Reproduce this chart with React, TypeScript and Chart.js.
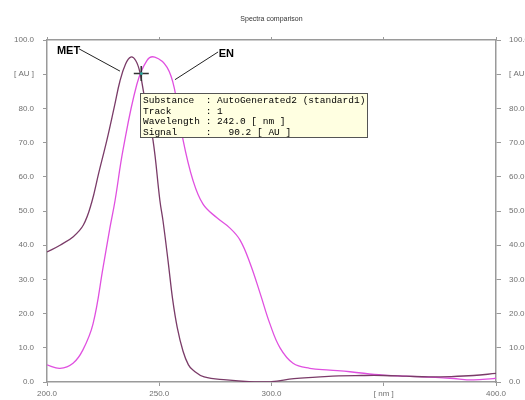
import React, { useEffect, useRef } from "react";
import { Chart, registerables } from "chart.js";

Chart.register(...registerables);

// ---- data ----
const metWavelengths = [200, 205.8, 211.7, 216.2, 219.9, 223, 226.7, 230, 232.5, 235, 237.3, 239.5, 241.4, 244, 247.2, 250.3, 251.7, 254, 256, 258, 260.6, 263, 265, 270, 280, 290, 300, 310, 320, 330, 340, 350, 360, 370, 380, 390, 400];
const metSignal = [38, 40, 42.5, 45.9, 52.5, 61, 70.8, 80.5, 88, 93, 95, 94, 90.5, 81, 70.8, 53, 47, 35, 24, 16, 9, 5, 3.5, 1.5, 0.6, 0.1, 0.1, 1.0, 1.4, 1.8, 1.9, 1.9, 1.7, 1.5, 1.6, 1.9, 2.5];

const enWavelengths = [200, 205.8, 211.6, 216, 220.5, 225, 228, 230.3, 233.9, 240, 244.5, 248, 253.5, 257, 260.6, 265, 269.5, 275.7, 281.5, 286, 290.4, 294.9, 299.3, 303.8, 309.6, 317, 326, 335, 349.7, 364.8, 379.5, 389.8, 398.7, 400];
const enSignal = [5, 4, 5.5, 9.4, 17, 33.6, 45, 53, 68, 87, 94, 95, 92, 85, 70.8, 59, 52, 48, 45, 41.5, 34.8, 26, 17, 10, 5.5, 4, 3.5, 3, 2, 1.6, 1.1, 0.6, 1, 1.1];

const xTicks = [200, 250, 300, 350, 400];
const xTickLabels = ["200.0", "250.0", "300.0", "[ nm ]", "400.0"];
const yTicks = [0, 10, 20, 30, 40, 50, 60, 70, 80, 90, 100];
const yTickLabels = ["0.0", "10.0", "20.0", "30.0", "40.0", "50.0", "60.0", "70.0", "80.0", "[ AU ]", "100.0"];

const cursorPoint = { x: 242.0, y: 90.2 };
const infoLabels = ["Substance", "Track", "Wavelength", "Signal"];
const infoValues = ["AutoGenerated2 (standard1)", "1", "242.0 [ nm ]", "  90.2 [ AU ]"];

const annotationNames = ["MET", "EN"];
const annotationTextAt = [[204.4, 95.9], [276.5, 95.0]];
const annotationLineFrom = [[214.3, 97.4], [276.2, 96.5]];
const annotationLineTo = [[232.5, 90.9], [257.0, 88.4]];

const chartTitle = "Spectra comparison";

const MET_COLOR = "#7a3b68";
const EN_COLOR = "#e050e0";
const AXIS_COLOR = "#9a9a9a";
const TICK_TEXT = "#707070";

function toPoints(xs: number[], ys: number[]) {
  return xs.map((x, i) => ({ x, y: ys[i] }));
}

const overlayPlugin = {
  id: "overlay",
  afterDraw(chart: any) {
    const { ctx, chartArea, scales } = chart;
    const xs = scales.x;
    const ys = scales.y;
    ctx.save();
    // title
    ctx.fillStyle = "#333";
    ctx.font = "7px 'Liberation Sans', Arial, sans-serif";
    ctx.textAlign = "center";
    ctx.textBaseline = "middle";
    ctx.fillText(chartTitle, (chartArea.left + chartArea.right) / 2, 19);

    // annotations
    for (let i = 0; i < annotationNames.length; i++) {
      const fx = xs.getPixelForValue(annotationLineFrom[i][0]);
      const fy = ys.getPixelForValue(annotationLineFrom[i][1]);
      const tx = xs.getPixelForValue(annotationLineTo[i][0]);
      const ty = ys.getPixelForValue(annotationLineTo[i][1]);
      ctx.strokeStyle = "#222";
      ctx.lineWidth = 1;
      ctx.beginPath();
      ctx.moveTo(fx, fy);
      ctx.lineTo(tx, ty);
      ctx.stroke();
      ctx.fillStyle = "#000";
      ctx.font = "bold 11px 'Liberation Sans', Arial, sans-serif";
      ctx.textAlign = "left";
      ctx.textBaseline = "alphabetic";
      ctx.fillText(
        annotationNames[i],
        xs.getPixelForValue(annotationTextAt[i][0]),
        ys.getPixelForValue(annotationTextAt[i][1])
      );
    }

    // info box
    const px = xs.getPixelForValue(cursorPoint.x);
    const py = ys.getPixelForValue(cursorPoint.y);
    const bx = Math.round(px) - 0.5;
    const by = Math.round(py + 19) + 0.5;
    const bw = 227;
    const bh = 44;
    ctx.fillStyle = "#ffffe1";
    ctx.fillRect(bx, by, bw, bh);
    ctx.strokeStyle = "#555";
    ctx.lineWidth = 1;
    ctx.strokeRect(bx, by, bw, bh);
    ctx.fillStyle = "#000";
    ctx.font = "9.5px 'Liberation Mono', 'Courier New', monospace";
    ctx.textAlign = "left";
    ctx.textBaseline = "middle";
    for (let i = 0; i < infoLabels.length; i++) {
      const line = infoLabels[i].padEnd(11, " ") + ": " + infoValues[i];
      ctx.fillText(line, bx + 2.5, by + 7 + i * 10.5);
    }
    ctx.restore();
  },
};

export default function App() {
  const ref = useRef<HTMLCanvasElement>(null);
  useEffect(() => {
    if (!ref.current) return;
    const tickFont = { family: "'Liberation Sans', Arial, sans-serif", size: 8 };
    const chart = new Chart(ref.current, {
      type: "scatter",
      data: {
        datasets: [
          {
            label: "MET",
            data: toPoints(metWavelengths, metSignal),
            showLine: true,
            borderColor: MET_COLOR,
            borderWidth: 1.3,
            pointRadius: 0,
            tension: 0.4,
            xAxisID: "x",
            yAxisID: "y",
            order: 1,
          },
          {
            label: "EN",
            data: toPoints(enWavelengths, enSignal),
            showLine: true,
            borderColor: EN_COLOR,
            borderWidth: 1.3,
            pointRadius: 0,
            tension: 0.4,
            xAxisID: "x",
            yAxisID: "y",
            order: 2,
          },
          {
            label: "cursor",
            data: [cursorPoint],
            showLine: false,
            pointStyle: "cross",
            pointRadius: 7.5,
            borderColor: "#333",
            borderWidth: 1.6,
            xAxisID: "x",
            yAxisID: "y",
            order: 0,
          },
          {
            label: "cursorDot",
            data: [cursorPoint],
            showLine: false,
            pointStyle: "circle",
            pointRadius: 1.5,
            backgroundColor: "#2aa39a",
            borderColor: "#2aa39a",
            borderWidth: 0,
            xAxisID: "x",
            yAxisID: "y",
            order: -1,
          },
        ],
      } as any,
      options: {
        responsive: false,
        animation: false,
        devicePixelRatio: 1,
        layout: { padding: 0 },
        plugins: {
          legend: { display: false },
          tooltip: { enabled: false },
          title: { display: false },
        },
        scales: {
          x: {
            type: "linear",
            position: "bottom",
            min: 200,
            max: 400,
            afterBuildTicks: (s: any) => {
              s.ticks = xTicks.map((v) => ({ value: v }));
            },
            ticks: {
              autoSkip: false,
              maxRotation: 0,
              font: tickFont,
              color: TICK_TEXT,
              padding: 3,
              callback: (v: any) => xTickLabels[xTicks.indexOf(Number(v))] ?? "",
            },
            grid: { drawOnChartArea: false, drawTicks: true, tickLength: 4, color: AXIS_COLOR, lineWidth: 1 },
            border: { display: true, color: AXIS_COLOR, width: 1.5 },
            afterFit: (s: any) => {
              s.height = 18;
            },
          },
          x2: {
            type: "linear",
            position: "top",
            min: 200,
            max: 400,
            afterBuildTicks: (s: any) => {
              s.ticks = xTicks.map((v) => ({ value: v }));
            },
            ticks: { display: false },
            grid: { drawOnChartArea: false, drawTicks: true, tickLength: 3, color: AXIS_COLOR, lineWidth: 1 },
            border: { display: true, color: AXIS_COLOR, width: 1.5 },
            afterFit: (s: any) => {
              s.height = 40;
            },
          },
          y: {
            type: "linear",
            position: "left",
            min: 0,
            max: 100,
            afterBuildTicks: (s: any) => {
              s.ticks = yTicks.map((v) => ({ value: v }));
            },
            ticks: {
              autoSkip: false,
              font: tickFont,
              color: TICK_TEXT,
              padding: 9,
              callback: (v: any) => yTickLabels[yTicks.indexOf(Number(v))] ?? "",
            },
            grid: { drawOnChartArea: false, drawTicks: true, tickLength: 4, color: AXIS_COLOR, lineWidth: 1 },
            border: { display: true, color: AXIS_COLOR, width: 1.5 },
            afterFit: (s: any) => {
              s.width = 47;
            },
          },
          y2: {
            type: "linear",
            position: "right",
            min: 0,
            max: 100,
            afterBuildTicks: (s: any) => {
              s.ticks = yTicks.map((v) => ({ value: v }));
            },
            ticks: {
              autoSkip: false,
              font: tickFont,
              color: TICK_TEXT,
              padding: 8,
              callback: (v: any) => yTickLabels[yTicks.indexOf(Number(v))] ?? "",
            },
            grid: { drawOnChartArea: false, drawTicks: true, tickLength: 5, color: AXIS_COLOR, lineWidth: 1 },
            border: { display: true, color: AXIS_COLOR, width: 1.5 },
            afterFit: (s: any) => {
              s.width = 29;
            },
          },
        },
      } as any,
      plugins: [overlayPlugin],
    });
    return () => chart.destroy();
  }, []);

  return (
    <div style={{ position: "fixed", left: 0, top: 0, width: 525, height: 400, background: "#fff", overflow: "hidden" }}>
      <canvas ref={ref} width={525} height={400} style={{ display: "block" }} />
    </div>
  );
}
